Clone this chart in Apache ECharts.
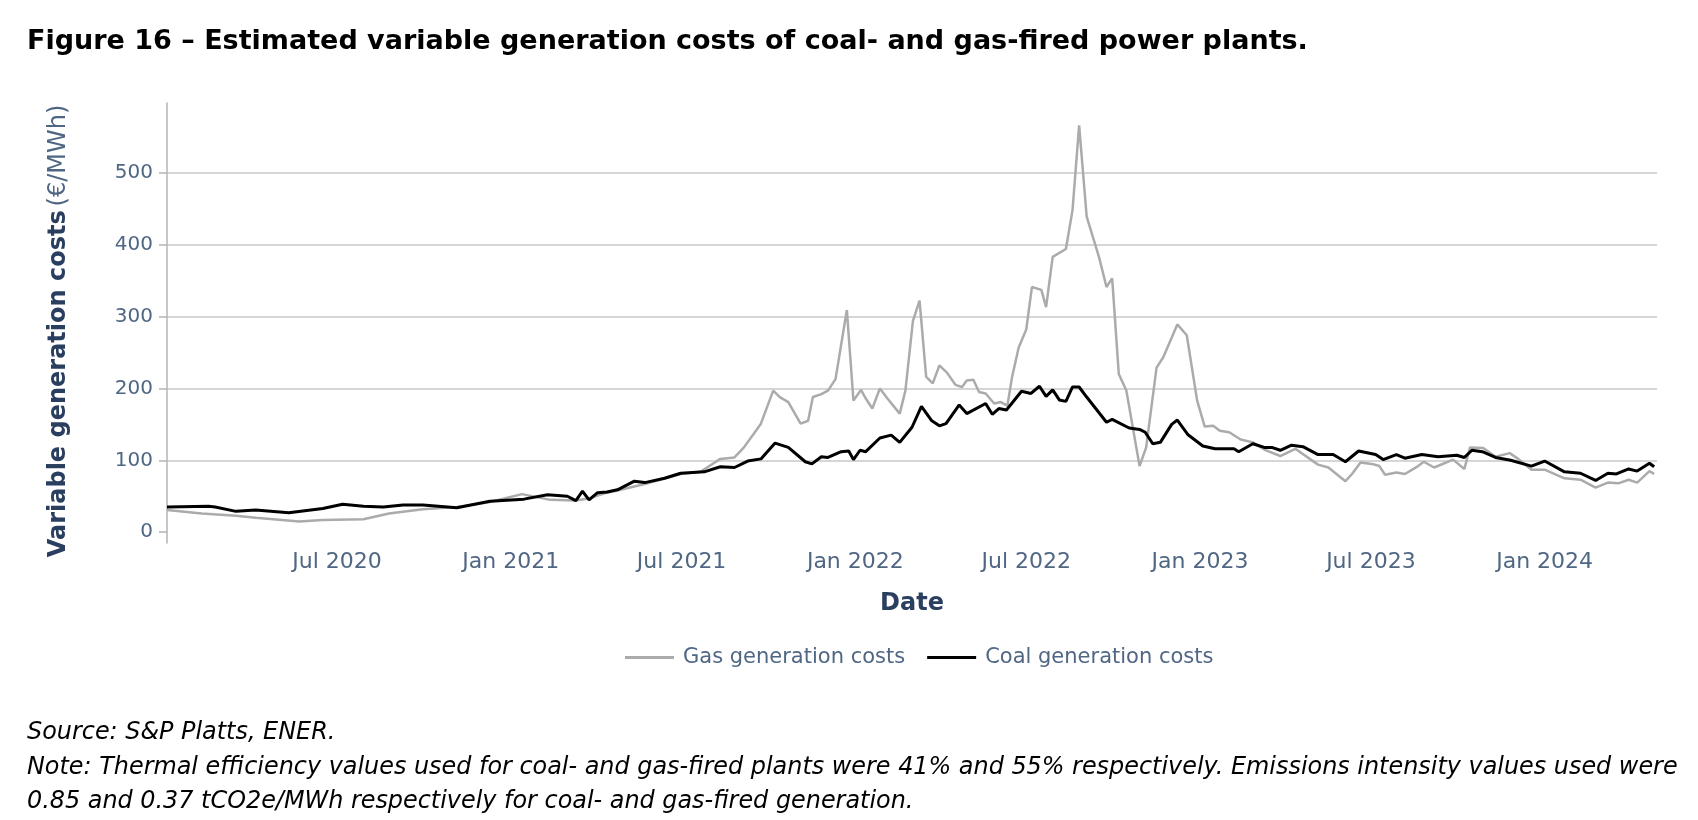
<!DOCTYPE html>
<html>
<head>
<meta charset="utf-8">
<title>Figure 16</title>
<script src="https://cdn.jsdelivr.net/npm/echarts@6/dist/echarts.min.js"></script>
<style>
html, body { margin: 0; padding: 0; background: #fff; }
#chart { width: 1698px; height: 820px; }
</style>
</head>
<body>
<div id="chart"></div>
<script>
// values (EUR/MWh)
const gasDates = [
  '2020-01-03','2020-02-09','2020-03-16','2020-04-06','2020-05-22','2020-06-16','2020-07-29','2020-08-25',
  '2020-09-30','2020-11-05','2020-12-10','2021-01-13','2021-02-12','2021-03-10','2021-03-25','2021-04-13',
  '2021-04-24','2021-05-23','2021-06-30','2021-07-21','2021-08-11','2021-08-26','2021-09-05','2021-09-16',
  '2021-09-23','2021-10-06','2021-10-13','2021-10-22','2021-11-01','2021-11-04','2021-11-12','2021-11-17',
  '2021-11-26','2021-12-03','2021-12-11','2021-12-23','2021-12-30','2022-01-07','2022-01-12','2022-01-19',
  '2022-01-27','2022-02-04','2022-02-17','2022-02-23','2022-03-03','2022-03-10','2022-03-17','2022-03-24',
  '2022-03-31','2022-04-08','2022-04-17','2022-04-24','2022-04-29','2022-05-06','2022-05-12','2022-05-19',
  '2022-05-28','2022-06-04','2022-06-11','2022-06-16','2022-06-23','2022-07-01','2022-07-07','2022-07-17',
  '2022-07-22','2022-07-29','2022-08-12','2022-08-19','2022-08-26','2022-09-03','2022-09-16','2022-09-24',
  '2022-09-30','2022-10-07','2022-10-15','2022-10-29','2022-11-05','2022-11-16','2022-11-23','2022-12-08',
  '2022-12-18','2022-12-29','2023-01-06','2023-01-15','2023-01-22','2023-02-01','2023-02-13','2023-02-26',
  '2023-03-10','2023-03-27','2023-04-12','2023-05-06','2023-05-17','2023-06-04','2023-06-11','2023-06-20',
  '2023-07-02','2023-07-10','2023-07-16','2023-07-28','2023-08-06','2023-08-20','2023-08-26','2023-09-06',
  '2023-09-26','2023-10-08','2023-10-14','2023-10-28','2023-11-10','2023-11-25','2023-12-04','2023-12-18',
  '2024-01-01','2024-01-22','2024-02-08','2024-02-24','2024-03-08','2024-03-19','2024-03-30','2024-04-08',
  '2024-04-21','2024-04-26'
];
const gasValues = [
  31, 26, 23, 20, 15, 17, 18, 26,
  32, 35, 42, 53, 45, 44, 47, 55,
  58, 67, 81, 84, 102, 104, 118, 138,
  151, 197, 188, 181, 158, 151, 155, 188,
  192, 197, 213, 309, 183, 198, 186, 172,
  200, 186, 165, 197, 294, 322, 216, 207,
  232, 222, 205, 202, 211, 212, 195, 193,
  179, 181, 176, 216, 257, 282, 341, 337,
  313, 383, 394, 448, 566, 439, 383, 341,
  353, 220, 197, 92, 118, 229, 243, 289,
  274, 183, 147, 148, 141, 139, 129, 125,
  115, 106, 116, 94, 90, 71, 81, 97,
  95, 92, 80, 83, 81, 92, 98, 90,
  101, 88, 118, 117, 105, 110, 102, 87,
  87, 75, 73, 62, 69, 68, 73, 69,
  85, 81
];

const coalDates = [
  '2020-01-03','2020-02-16','2020-02-23','2020-03-16','2020-04-06','2020-05-11','2020-06-16','2020-07-07',
  '2020-07-29','2020-08-19','2020-09-09','2020-09-30','2020-11-05','2020-12-10','2021-01-15','2021-02-09',
  '2021-03-02','2021-03-11','2021-03-18','2021-03-25','2021-04-03','2021-04-13','2021-04-24','2021-05-12',
  '2021-05-23','2021-06-13','2021-06-30','2021-07-25','2021-08-11','2021-08-26','2021-09-09','2021-09-23',
  '2021-10-08','2021-10-22','2021-11-09','2021-11-16','2021-11-26','2021-12-03','2021-12-17','2021-12-25',
  '2021-12-30','2022-01-06','2022-01-12','2022-01-27','2022-02-08','2022-02-17','2022-03-02','2022-03-12',
  '2022-03-23','2022-03-31','2022-04-07','2022-04-21','2022-04-29','2022-05-19','2022-05-26','2022-06-02',
  '2022-06-10','2022-06-26','2022-07-06','2022-07-15','2022-07-22','2022-07-29','2022-08-05','2022-08-12',
  '2022-08-19','2022-08-26','2022-09-03','2022-09-09','2022-09-24','2022-09-30','2022-10-18','2022-10-29',
  '2022-11-04','2022-11-12','2022-11-20','2022-12-02','2022-12-08','2022-12-19','2023-01-04','2023-01-17',
  '2023-02-06','2023-02-11','2023-02-26','2023-03-10','2023-03-18','2023-03-27','2023-04-08','2023-04-20',
  '2023-05-06','2023-05-22','2023-06-04','2023-06-18','2023-07-06','2023-07-14','2023-07-28','2023-08-06',
  '2023-08-24','2023-09-10','2023-09-30','2023-10-08','2023-10-16','2023-10-27','2023-11-10','2023-11-26',
  '2023-12-18','2024-01-01','2024-01-22','2024-02-08','2024-02-24','2024-03-08','2024-03-17','2024-03-30',
  '2024-04-08','2024-04-21','2024-04-26'
];
const coalValues = [
  35, 36, 35, 29, 31, 27, 33, 39,
  36, 35, 38, 38, 34, 43, 46, 52,
  50, 44, 57, 45, 55, 56, 59, 71,
  69, 75, 82, 84, 91, 90, 99, 102,
  124, 118, 98, 95, 105, 104, 112, 113,
  101, 114, 112, 131, 135, 125, 146, 175,
  155, 148, 151, 177, 165, 179, 164, 172,
  170, 196, 193, 203, 189, 198, 184, 182,
  202, 202, 188, 178, 153, 157, 145, 143,
  139, 123, 125, 150, 156, 136, 120, 116,
  116, 112, 123, 118, 118, 114, 121, 119,
  108, 108, 98, 113, 108, 101, 108, 103,
  108, 105, 107, 104, 114, 112, 104, 100,
  92, 99, 84, 82, 72, 82, 81, 88,
  85, 96, 91
];

const xTicks = ['2020-07-01','2021-01-01','2021-07-01','2022-01-01','2022-07-01','2023-01-01','2023-07-01','2024-01-01'];
const yTicks = [0, 100, 200, 300, 400, 500];
const yGrid = [100, 200, 300, 400, 500];
const monthNames = ['Jan','Feb','Mar','Apr','May','Jun','Jul','Aug','Sep','Oct','Nov','Dec'];

function toTime(s) {
    const p = s.split('-');
    return new Date(+p[0], +p[1] - 1, +p[2]).getTime();
}

var chartDom = document.getElementById('chart');
var myChart = echarts.init(chartDom);
var option;

const font = 'DejaVu Sans';

option = {
    animation: false,
    backgroundColor: '#fff',
    textStyle: { fontFamily: font },
    title: {
        text: 'Figure 16 \u2013 Estimated variable generation costs of coal- and gas-fired power plants.',
        left: 27,
        top: 28,
        padding: 0,
        textStyle: { fontFamily: font, fontWeight: 'bold', fontSize: 27, color: '#000' }
    },
    grid: {
        left: 167,
        right: 41,
        top: 103,
        bottom: 277
    },
    legend: {
        data: ['Gas generation costs', 'Coal generation costs'],
        left: 620,
        top: 642,
        icon: 'rect',
        itemWidth: 49,
        itemHeight: 3,
        itemGap: 22,
        textStyle: { fontFamily: font, fontSize: 21, color: '#506784', padding: [0, 0, 0, 4] }
    },
    xAxis: {
        // dates kept as timestamps on a plain value axis so the half-year labels can be pinned
        type: 'value',
        min: toTime('2020-01-03'),
        max: toTime('2024-04-29'),
        name: 'Date',
        nameLocation: 'middle',
        nameGap: 49,
        nameTextStyle: { fontFamily: font, fontWeight: 'bold', fontSize: 24, color: '#2a3f5f' },
        axisLine: { show: false },
        axisTick: { show: false },
        splitLine: { show: false },
        axisLabel: {
            customValues: xTicks.map(toTime),
            formatter: function (v) {
                const d = new Date(v);
                return monthNames[d.getMonth()] + ' ' + d.getFullYear();
            },
            color: '#506784',
            fontSize: 22,
            fontFamily: font,
            margin: 8
        }
    },
    yAxis: [
        {
            type: 'value',
            min: -15,
            max: 597,
            name: '{b|Variable generation costs} {n|(\u20ac/MWh)}',
            nameLocation: 'middle',
            nameRotate: 90,
            nameGap: 96,
            nameTextStyle: {
                padding: [0, 16, 0, 0],
                rich: {
                    b: { fontFamily: font, fontWeight: 'bold', fontSize: 24, color: '#2a3f5f' },
                    n: { fontFamily: font, fontSize: 24, color: '#506784' }
                }
            },
            axisLine: { show: true, lineStyle: { color: '#b4b4b4', width: 1.5 } },
            axisTick: { show: true, length: 8, customValues: yTicks, lineStyle: { color: '#b4b4b4', width: 1.5 } },
            axisLabel: { customValues: yTicks, color: '#506784', fontSize: 20, fontFamily: font, margin: 14 },
            splitLine: { show: false }
        },
        {
            // grid lines only (no line at zero)
            type: 'value',
            min: -15,
            max: 597,
            position: 'left',
            axisLine: { show: false },
            axisTick: { show: false, customValues: yGrid },
            axisLabel: { show: false, customValues: yGrid },
            splitLine: { show: true, lineStyle: { color: '#c8c8c8', width: 1.6 } }
        }
    ],
    graphic: [
        {
            type: 'text',
            left: 27,
            top: 716,
            style: {
                text: 'Source: S&P Platts, ENER.\nNote: Thermal efficiency values used for coal- and gas-fired plants were 41% and 55% respectively. Emissions intensity values used were\n0.85 and 0.37 tCO2e/MWh respectively for coal- and gas-fired generation.',
                font: 'italic 23.9px "DejaVu Sans"',
                lineHeight: 34.5,
                fill: '#000'
            }
        }
    ],
    series: [
        {
            name: 'Gas generation costs',
            type: 'line',
            symbol: 'none',
            color: '#ababab',
            lineStyle: { width: 2.5, color: '#ababab' },
            data: gasDates.map((d, i) => [toTime(d), gasValues[i]])
        },
        {
            name: 'Coal generation costs',
            type: 'line',
            symbol: 'none',
            color: '#000',
            lineStyle: { width: 3, color: '#000' },
            data: coalDates.map((d, i) => [toTime(d), coalValues[i]])
        }
    ]
};

option && myChart.setOption(option);
</script>
</body>
</html>
